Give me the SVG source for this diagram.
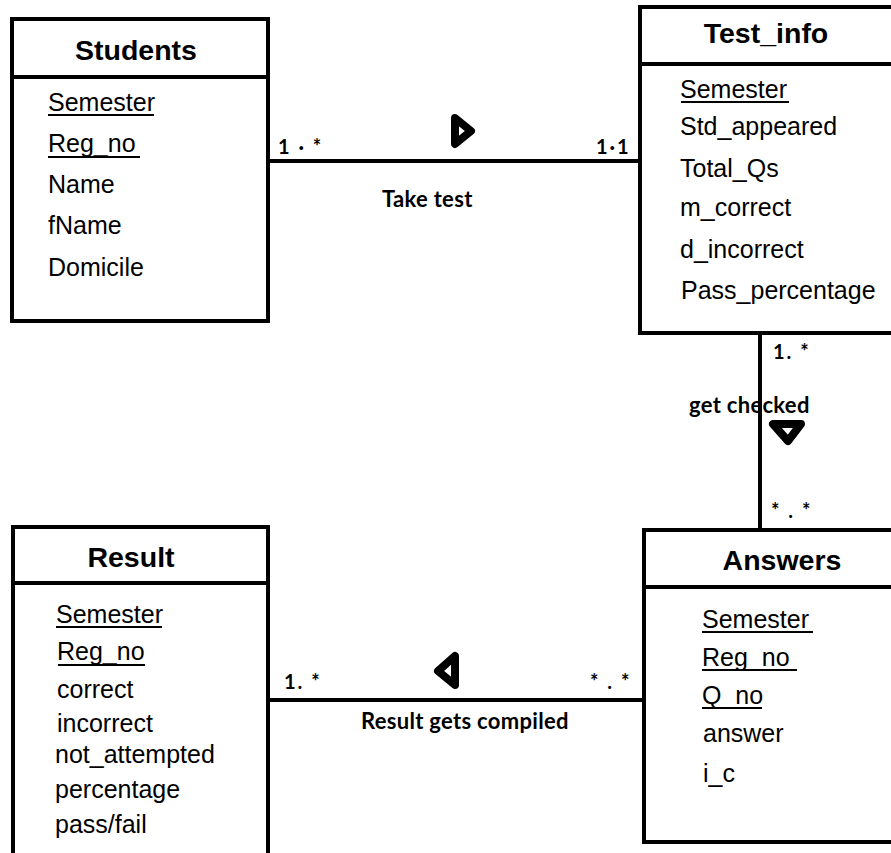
<svg xmlns="http://www.w3.org/2000/svg" width="891" height="853" viewBox="0 0 891 853">
<style>
.box{fill:#fff;stroke:#000;stroke-width:4}
.div{stroke:#000;stroke-width:4}
.title{font-family:"Liberation Sans",Arial,sans-serif;font-weight:bold;font-size:28.5px;text-anchor:middle;fill:#000}
.attr{font-family:"Liberation Sans",Arial,sans-serif;font-size:25px;fill:#000}
.ul{stroke:#000;stroke-width:2}
.conn{stroke:#000;stroke-width:4;fill:none}
.lbl{font-family:Lato,"Open Sans",sans-serif;font-weight:bold;font-size:22px;letter-spacing:0.3px;fill:#000}
.mult{font-family:Lato,"Open Sans",sans-serif;font-weight:bold;font-size:20px;letter-spacing:2px;fill:#000}
.tri{fill:#fff;stroke:#000;stroke-width:8;stroke-linejoin:round}
</style>
<rect width="891" height="853" fill="#fff"/>
<g id="connectors">
<line class="conn" x1="268" y1="161" x2="640" y2="161"/>
<line class="conn" x1="760" y1="333" x2="760" y2="530"/>
<line class="conn" x1="268" y1="700" x2="644" y2="700"/>
<polygon class="tri" points="455,118 471,131 455,144"/>
<polygon class="tri" points="773,424 801,424 788,441"/>
<polygon class="tri" points="455,656 455,685 438,671"/>
<text class="mult" x="278" y="154">1 · *</text>
<text class="mult" x="596" y="154">1·1</text>
<text class="lbl" x="382" y="207">Take test</text>
<text class="mult" x="773" y="359">1. *</text>
<text class="lbl" x="689" y="413">get checked</text>
<text class="mult" x="771" y="518">* . *</text>
<text class="mult" x="284" y="689">1. *</text>
<text class="mult" x="590" y="689">* . *</text>
<text class="lbl" x="361" y="729">Result gets compiled</text>
</g>
<g id="students">
<rect class="box" x="12" y="19" width="256" height="302"/>
<line class="div" x1="12" y1="77" x2="268" y2="77"/>
<text class="title" x="136" y="60">Students</text>
<text class="attr" x="48" y="111">Semester</text>
<line class="ul" x1="48" y1="115" x2="154" y2="115"/>
<text class="attr" x="48" y="152">Reg_no</text>
<line class="ul" x1="48" y1="157" x2="140" y2="157"/>
<text class="attr" x="48" y="193">Name</text>
<text class="attr" x="48" y="234">fName</text>
<text class="attr" x="48" y="276">Domicile</text>
</g>
<g id="test_info">
<rect class="box" x="640" y="7" width="260" height="326"/>
<line class="div" x1="640" y1="64" x2="900" y2="64"/>
<text class="title" x="766" y="43">Test_info</text>
<text class="attr" x="680" y="98">Semester</text>
<line class="ul" x1="681" y1="102" x2="789" y2="102"/>
<text class="attr" x="680" y="135">Std_appeared</text>
<text class="attr" x="680" y="177">Total_Qs</text>
<text class="attr" x="680" y="216">m_correct</text>
<text class="attr" x="680" y="258">d_incorrect</text>
<text class="attr" x="681" y="299">Pass_percentage</text>
</g>
<g id="result">
<rect class="box" x="13" y="527" width="255" height="328"/>
<line class="div" x1="13" y1="583" x2="268" y2="583"/>
<text class="title" x="131" y="567">Result</text>
<text class="attr" x="56" y="623">Semester</text>
<line class="ul" x1="56" y1="627" x2="162" y2="627"/>
<text class="attr" x="57" y="660">Reg_no</text>
<line class="ul" x1="58" y1="665" x2="145" y2="665"/>
<text class="attr" x="57" y="698">correct</text>
<text class="attr" x="57" y="732">incorrect</text>
<text class="attr" x="55" y="763">not_attempted</text>
<text class="attr" x="55" y="798">percentage</text>
<text class="attr" x="55" y="833">pass/fail</text>
</g>
<g id="answers">
<rect class="box" x="644" y="530" width="260" height="312"/>
<line class="div" x1="644" y1="587" x2="904" y2="587"/>
<text class="title" x="782" y="570">Answers</text>
<text class="attr" x="702" y="628">Semester</text>
<line class="ul" x1="702" y1="632" x2="813" y2="632"/>
<text class="attr" x="702" y="666">Reg_no </text>
<line class="ul" x1="702" y1="670" x2="797" y2="670"/>
<text class="attr" x="702" y="704">Q_no</text>
<line class="ul" x1="702" y1="708" x2="762" y2="708"/>
<text class="attr" x="703" y="742">answer</text>
<text class="attr" x="703" y="782">i_c</text>
</g>
</svg>
